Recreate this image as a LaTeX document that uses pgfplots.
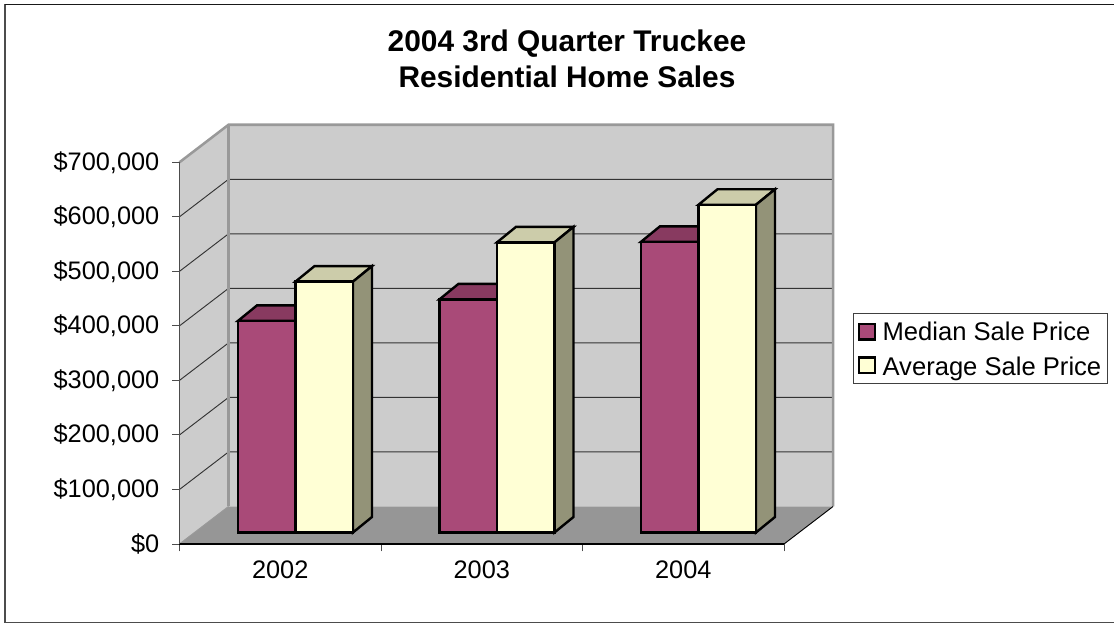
\documentclass[border=0pt]{standalone}
\usepackage{fontspec}
\setmainfont{Liberation Sans}
\usepackage{pgfplots}
\pgfplotsset{compat=1.18}
\definecolor{wall}{HTML}{CCCCCC}
\definecolor{floorc}{HTML}{969696}
\definecolor{edge}{HTML}{999999}
\definecolor{gridc}{HTML}{333333}
\definecolor{medF}{HTML}{A94A78}
\definecolor{medT}{HTML}{883A60}
\definecolor{avgF}{HTML}{FFFFD5}
\definecolor{avgT}{HTML}{CCCCAA}
\definecolor{avgS}{HTML}{939378}
\begin{document}
\begin{tikzpicture}[x=0.75pt,y=0.75pt]
\useasboundingbox (-179.5,-80) rectangle (934.5,544);
\draw[color=black!70,line width=1.1pt] (934.5,-78.7) -- (-174.5,-78.7) -- (-174.5,539.5);
\draw[color=black!90,line width=1.3pt] (-174.5,539.5) -- (934.5,539.5);
\begin{axis}[
  at={(0,0)},anchor=south west,
  width=453.4pt,height=286.3pt,scale only axis,
  xmin=0,xmax=3,ymin=0,ymax=700000,
  clip=false,axis on top,
  axis x line*=bottom,axis y line*=left,
  axis line style={-},
  x axis line style={black,line width=0.9pt},
  y axis line style={black!70,line width=0.9pt},
  xtick={0,1,2,3},xticklabels={2002,2003,2004},
  x tick label as interval,
  ytick={0,100000,200000,300000,400000,500000,600000,700000},
  yticklabels={{\$0},{\$100,000},{\$200,000},{\$300,000},{\$400,000},{\$500,000},{\$600,000},{\$700,000}},
  scaled y ticks=false,
  tick align=outside,
  major tick length=5.6pt,
  tick style={black!70,line width=0.7pt},
  ticklabel style={font=\fontsize{19}{23}\selectfont,text=black},
  yticklabel style={xshift=-6pt},
  xticklabel style={yshift=-3.5pt},
  title={2004 3rd Quarter Truckee\\Residential Home Sales},
  title style={at={(0.641,1)},anchor=south,align=center,yshift=46.5pt,
     font=\fontsize{22.4}{26.7}\selectfont\bfseries},
  legend style={at={(1.1142,0.6039)},anchor=north west,draw=black!75,line width=0.7pt,
     font=\fontsize{19.2}{23}\selectfont,inner xsep=3pt,inner ysep=2.4pt,
     legend cell align=left,row sep=5.6pt,
     nodes={inner ysep=0.5pt,text height=17pt,text depth=2.9pt},
     /tikz/column 1/.style={column sep=3pt}},
]
% walls and floor
\addplot[forget plot,fill=wall,draw=none] coordinates {(0,0)(0.2432,68770)(0.2432,768770)(0,700000)} -- cycle;
\addplot[forget plot,fill=wall,draw=none] coordinates {(0.2432,68770)(3.2432,68770)(3.2432,768770)(0.2432,768770)} -- cycle;
\addplot[forget plot,fill=floorc,draw=none] coordinates {(0,0)(3,0)(3.2432,68770)(0.2432,68770)} -- cycle;
% grid lines
\addplot[forget plot,gridc,line width=0.7pt] coordinates {(0,100000)(0.2432,168770)(3.2432,168770)};
\addplot[forget plot,gridc,line width=0.7pt] coordinates {(0,200000)(0.2432,268770)(3.2432,268770)};
\addplot[forget plot,gridc,line width=0.7pt] coordinates {(0,300000)(0.2432,368770)(3.2432,368770)};
\addplot[forget plot,gridc,line width=0.7pt] coordinates {(0,400000)(0.2432,468770)(3.2432,468770)};
\addplot[forget plot,gridc,line width=0.7pt] coordinates {(0,500000)(0.2432,568770)(3.2432,568770)};
\addplot[forget plot,gridc,line width=0.7pt] coordinates {(0,600000)(0.2432,668770)(3.2432,668770)};
% wall edges
\addplot[forget plot,edge,line width=1.9pt] coordinates {(0,700000)(0.2432,768770)(3.2432,768770)(3.2432,68770)};
\addplot[forget plot,edge,line width=1.9pt] coordinates {(0.2432,68770)(0.2432,768770)};
\addplot[forget plot,edge,line width=0.8pt] coordinates {(0,0)(0.2432,68770)};
\addplot[forget plot,black,line width=0.7pt] coordinates {(3,0)(3.2432,68770)};
% median bars
\begin{scope}[xshift=5.7pt,yshift=4.31pt]
\addplot[forget plot,fill=medT,draw=black,line width=1.8pt] coordinates {(0.2146,388000)(0.5,388000)(0.5943,416425)(0.3089,416425)} -- cycle;
\addplot[forget plot,fill=medT,draw=black,line width=1.8pt] coordinates {(1.2146,427500)(1.5,427500)(1.5943,455925)(1.3089,455925)} -- cycle;
\addplot[forget plot,fill=medT,draw=black,line width=1.8pt] coordinates {(2.2146,533000)(2.5,533000)(2.5943,561425)(2.3089,561425)} -- cycle;
\addplot[ybar,bar width=43.1pt,bar shift=-21.56pt,fill=medF,draw=black,line width=1.8pt,
  legend image code/.code={\draw[fill=medF,draw=black,line width=1.8pt] (0pt,-10.7pt) rectangle (12pt,0.8pt);}]
  coordinates {(0.5,388000)(1.5,427500)(2.5,533000)};
\addlegendentry{Median Sale Price}
% average bars
\addplot[forget plot,fill=avgT,draw=black,line width=1.8pt] coordinates {(0.5,460000)(0.7854,460000)(0.8797,488425)(0.5943,488425)} -- cycle;
\addplot[forget plot,fill=avgT,draw=black,line width=1.8pt] coordinates {(1.5,532000)(1.7854,532000)(1.8797,560425)(1.5943,560425)} -- cycle;
\addplot[forget plot,fill=avgT,draw=black,line width=1.8pt] coordinates {(2.5,601000)(2.7854,601000)(2.8797,629425)(2.5943,629425)} -- cycle;
\addplot[forget plot,fill=avgS,draw=black,line width=1.8pt] coordinates {(0.7854,0)(0.7854,460000)(0.8797,488425)(0.8797,28425)} -- cycle;
\addplot[forget plot,fill=avgS,draw=black,line width=1.8pt] coordinates {(1.7854,0)(1.7854,532000)(1.8797,560425)(1.8797,28425)} -- cycle;
\addplot[forget plot,fill=avgS,draw=black,line width=1.8pt] coordinates {(2.7854,0)(2.7854,601000)(2.8797,629425)(2.8797,28425)} -- cycle;
\addplot[ybar,bar width=43.1pt,bar shift=21.56pt,fill=avgF,draw=black,line width=1.8pt,
  legend image code/.code={\draw[fill=avgF,draw=black,line width=1.8pt] (0pt,-9.2pt) rectangle (12pt,2.3pt);}]
  coordinates {(0.5,460000)(1.5,532000)(2.5,601000)};
\addlegendentry{Average Sale Price\hspace{8pt}}
\end{scope}
\end{axis}
\end{tikzpicture}
\end{document}
